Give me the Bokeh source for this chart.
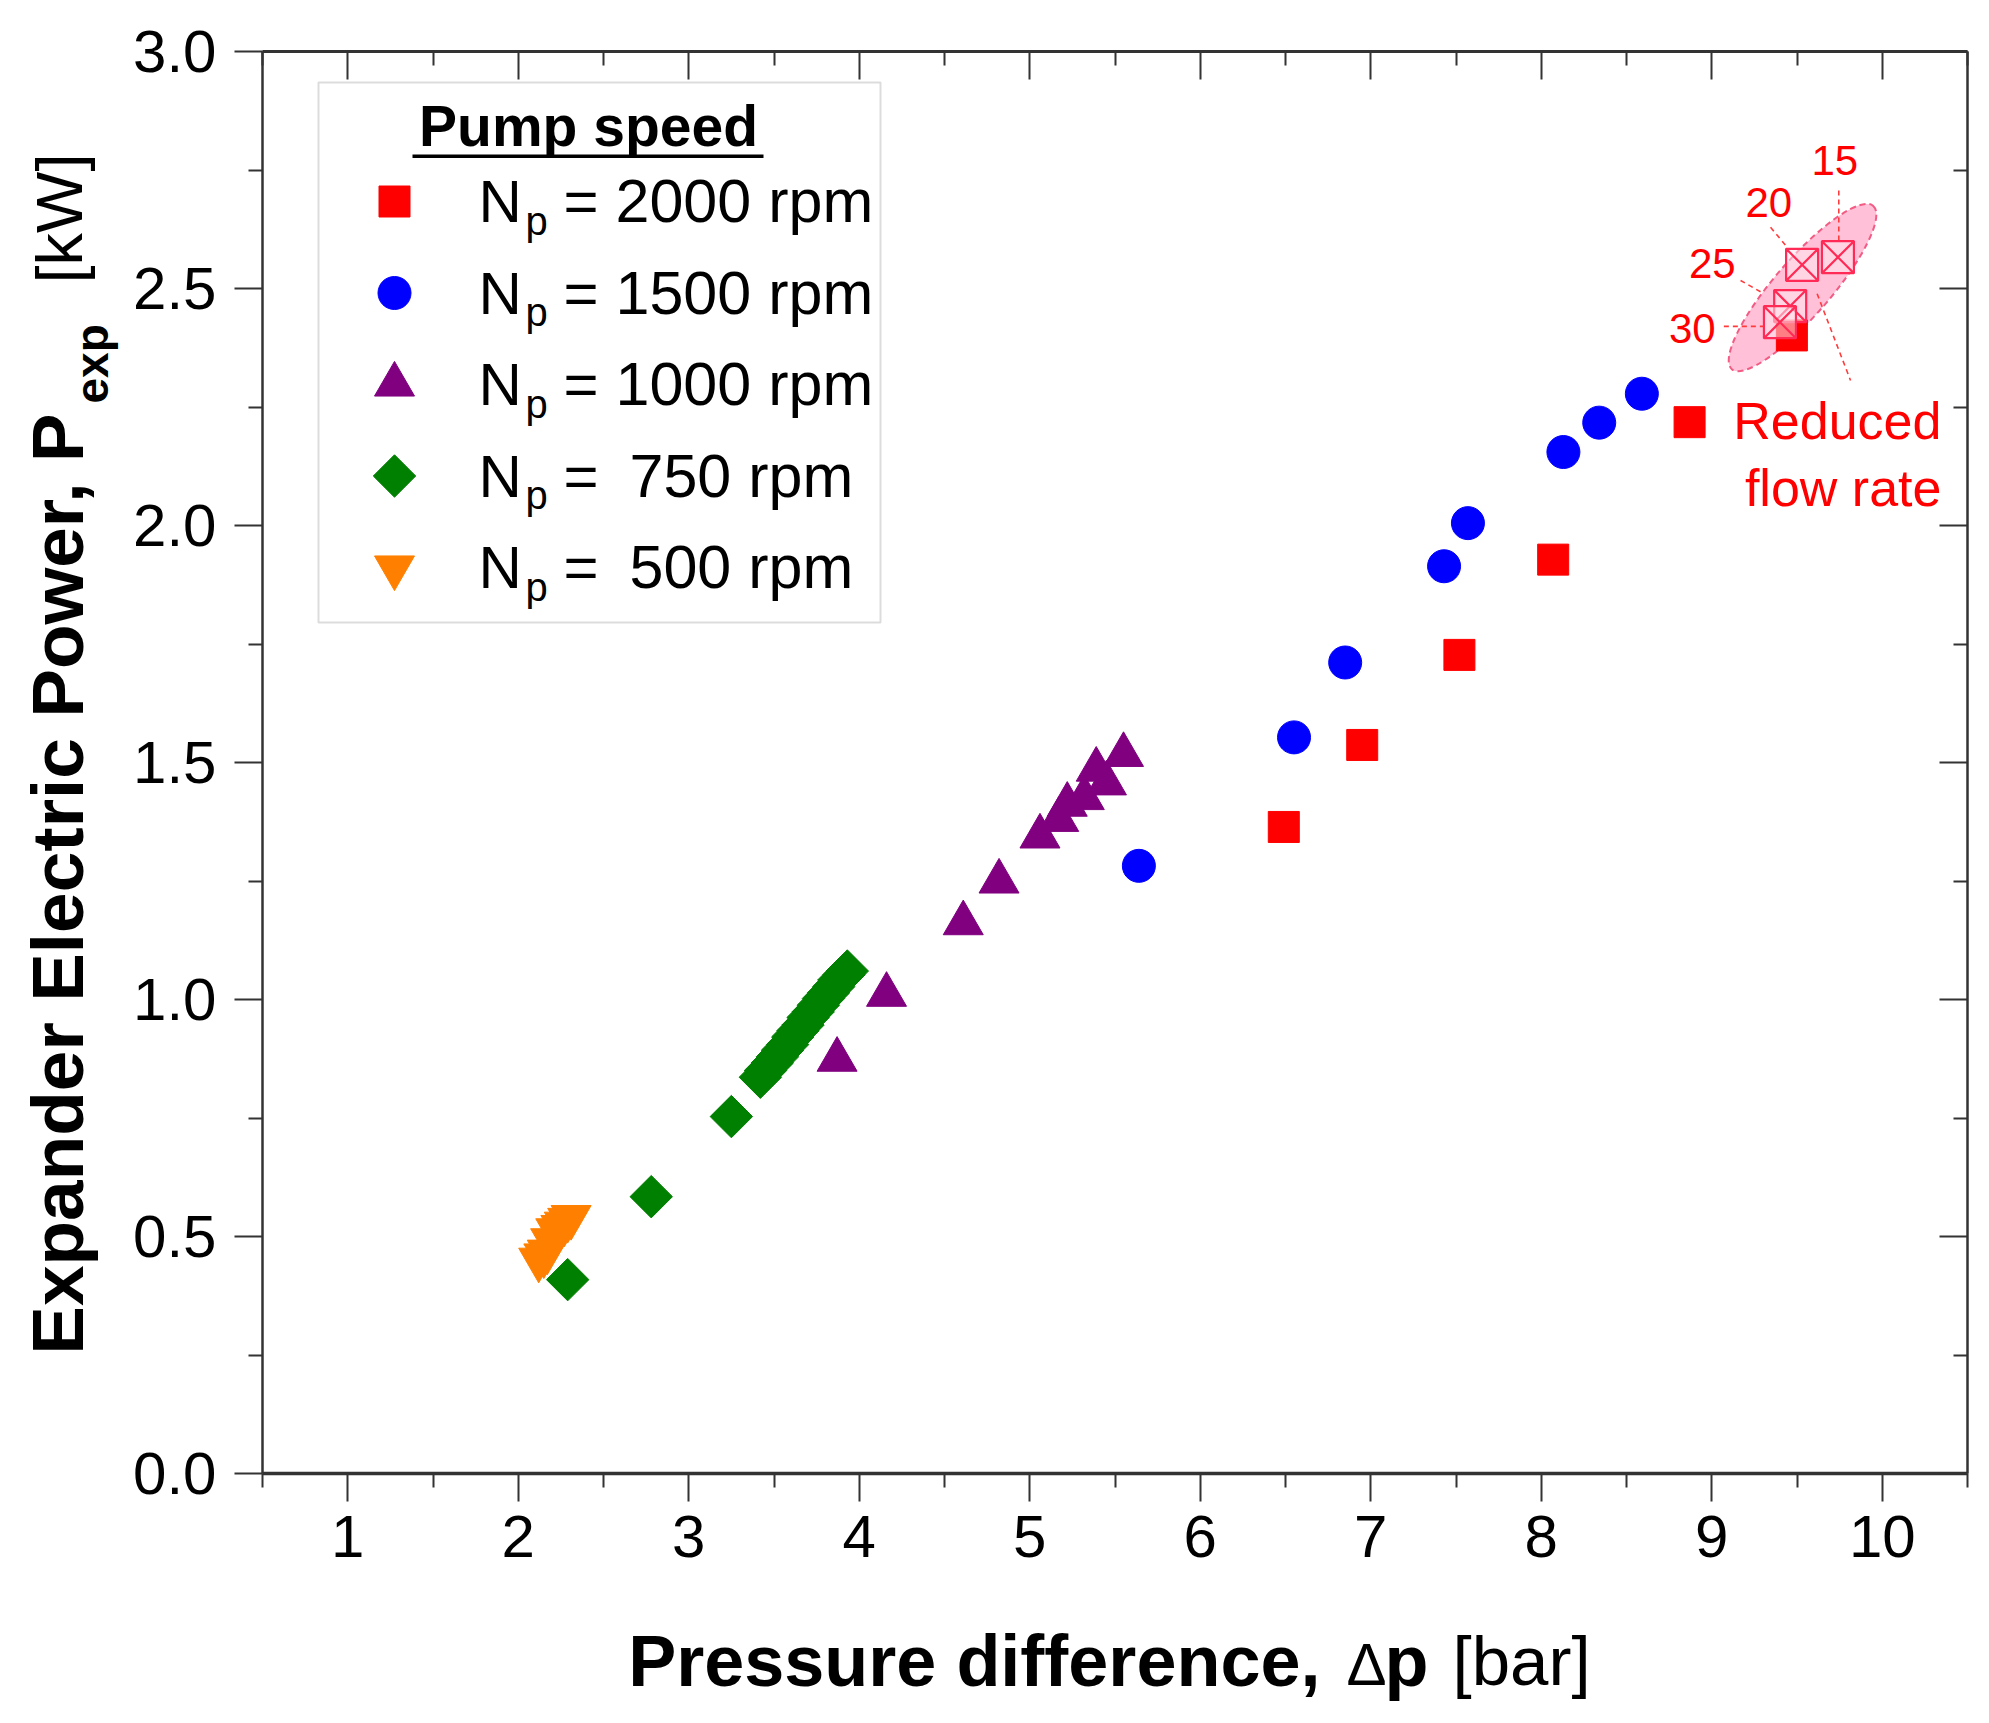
import numpy as np
from bokeh.plotting import figure
from bokeh.layouts import row, column
from bokeh.models import Range1d, LinearAxis, FixedTicker, PrintfTickFormatter, Label, BoxAnnotation
from bokeh.embed import file_html
from bokeh.resources import INLINE

FONT = "Liberation Sans"
MID = 0.3465  # baseline -> middle offset (fraction of font size)

# ---------------- data ----------------
x_ticks = [1, 2, 3, 4, 5, 6, 7, 8, 9, 10]
x_minor = [0.5, 1.5, 2.5, 3.5, 4.5, 5.5, 6.5, 7.5, 8.5, 9.5, 10.5]
y_ticks = [0.0, 0.5, 1.0, 1.5, 2.0, 2.5, 3.0]
y_minor = [0.25, 0.75, 1.25, 1.75, 2.25, 2.75]

dp_2000 = [6.49, 6.95, 7.52, 8.07, 8.87, 9.47]
P_2000 = [1.364, 1.537, 1.727, 1.928, 2.218, 2.401]

dp_1500 = [5.64, 6.55, 6.85, 7.43, 7.57, 8.13, 8.34, 8.59]
P_1500 = [1.282, 1.553, 1.711, 1.914, 2.005, 2.155, 2.217, 2.278]

dp_1000 = [3.87, 4.16, 4.61, 4.82, 5.06, 5.17, 5.22, 5.32, 5.39, 5.45, 5.55]
P_1000 = [0.873, 1.010, 1.161, 1.249, 1.344, 1.379, 1.411, 1.425, 1.485, 1.456, 1.516]

dp_750 = [2.29, 2.78, 3.25, 3.42, 3.45, 3.49, 3.52, 3.55, 3.58, 3.61, 3.64, 3.67,
          3.70, 3.73, 3.76, 3.79, 3.82, 3.85, 3.88, 3.91, 3.93]
P_750 = [0.409, 0.584, 0.753, 0.836, 0.850, 0.866, 0.879, 0.893, 0.905, 0.921, 0.934, 0.946,
         0.962, 0.974, 0.988, 1.002, 1.014, 1.027, 1.041, 1.052, 1.060]

dp_500 = [2.12, 2.15, 2.17, 2.19, 2.22, 2.25, 2.27, 2.29, 2.31]
P_500 = [0.451, 0.460, 0.468, 0.492, 0.513, 0.520, 0.527, 0.535, 0.541]

# reduced flow rate points (2000 rpm)
dp_red = [9.74, 9.53, 9.46, 9.40]
P_red = [2.566, 2.550, 2.463, 2.429]
flow_labels = ["15", "20", "25", "30"]

legend_values = ["2000 rpm", "1500 rpm", "1000 rpm", "750 rpm", "500 rpm"]

# ---------------- main figure ----------------
FW, FH = 1705, 1422
BL, BT, BB, BR = 137, 51, 120, 16
MAIN_H = BT + FH + BB
YT_W = 125
FRAME_BOTTOM = BT + FH  # page y of frame bottom

p = figure(frame_width=FW, frame_height=FH,
           x_range=Range1d(0.5, 10.5), y_range=Range1d(0.0, 3.0),
           output_backend="svg", toolbar_location=None,
           min_border_left=BL, min_border_right=BR, min_border_top=BT, min_border_bottom=BB)
p.outline_line_color = None
p.xgrid.visible = False
p.ygrid.visible = False
p.background_fill_color = "white"
p.border_fill_color = "white"
p.extra_x_ranges = {"lx": Range1d(0, FW)}
p.extra_y_ranges = {"ly": Range1d(0, FH)}

AX = "#333333"


def style_axis(ax, ticks, minor, lw, show_labels, inward):
    ax.ticker = FixedTicker(ticks=ticks, minor_ticks=minor)
    ax.axis_line_color = AX
    ax.axis_line_width = lw
    ax.major_tick_line_color = AX
    ax.minor_tick_line_color = AX
    ax.major_tick_line_width = 2
    ax.minor_tick_line_width = 2
    if inward:
        ax.major_tick_in, ax.major_tick_out = 28, 0
        ax.minor_tick_in, ax.minor_tick_out = 14, 0
    else:
        ax.major_tick_in, ax.major_tick_out = 0, 28
        ax.minor_tick_in, ax.minor_tick_out = 0, 14
    ax.axis_label = None
    if show_labels:
        ax.major_label_text_font = FONT
        ax.major_label_text_font_size = "60px"
        ax.major_label_text_color = "black"
    else:
        ax.major_label_text_font_size = "0px"
        ax.major_label_text_alpha = 0
        ax.major_label_standoff = 0


xb = p.below[0]
yl = p.left[0]
style_axis(xb, x_ticks, x_minor, 3.5, True, False)
xb.major_label_standoff = 14
style_axis(yl, y_ticks, y_minor, 2.5, True, False)
yl.formatter = PrintfTickFormatter(format="%.1f")
yl.major_label_standoff = 18

xt = LinearAxis()
style_axis(xt, x_ticks, x_minor, 3.0, False, True)
p.add_layout(xt, "above")
yr = LinearAxis()
style_axis(yr, y_ticks, y_minor, 2.5, False, True)
p.add_layout(yr, "right")

# ---------------- reduced flow rate annotation ----------------
p.ellipse(x=[float(np.mean(dp_red))], y=[float(np.mean(P_red))], width=216, height=56,
          width_units="screen", height_units="screen", angle=0.857,
          fill_color="#FFC0D8", fill_alpha=1.0, line_color="#F25C84",
          line_dash="6 4", line_width=2)

seg_x0 = [9.745, 9.345, 9.169, 9.071, 9.618]
seg_y0 = [2.707, 2.629, 2.517, 2.420, 2.489]
seg_x1 = [9.745, 9.443, 9.306, 9.325, 9.814]
seg_y1 = [2.601, 2.587, 2.489, 2.420, 2.306]
p.segment(x0=seg_x0, y0=seg_y0, x1=seg_x1, y1=seg_y1,
          line_color="#FF3B3B", line_dash="5 4", line_width=1.6)

# ---------------- data series ----------------
p.scatter(dp_750, P_750, marker="square", angle=np.pi / 4, size=30,
          fill_color="#008000", line_color="#008000")
p.scatter(dp_500, P_500, marker="inverted_triangle", size=40,
          fill_color="#FF8000", line_color="#FF8000")
p.scatter(dp_1000, P_1000, marker="triangle", size=40,
          fill_color="#800080", line_color="#800080")
p.scatter(dp_1500, P_1500, marker="circle", size=33,
          fill_color="#0000FF", line_color="#0000FF")
p.scatter(dp_2000, P_2000, marker="square", size=31,
          fill_color="#FF0000", line_color="#FF0000")
p.scatter(dp_red, P_red, marker="square_x", size=32,
          fill_color="#FFE6EF", fill_alpha=0.55, line_color="#FF2A55", line_width=2.2)

# flow-rate labels
flow_lx = [9.722, 9.335, 9.003, 8.886]
flow_ly = [2.770, 2.682, 2.552, 2.415]
for t, lx, ly in zip(flow_labels, flow_lx, flow_ly):
    p.add_layout(Label(x=lx, y=ly, text=t, text_font=FONT, text_font_size="42px",
                       text_color="#FF0000", text_align="center", text_baseline="middle"))

YPX = FH / 3.0  # pixels per data unit (y)
p.add_layout(Label(x=10.347, y=2.183 + MID * 52 / YPX, text="Reduced", text_font=FONT,
                   text_font_size="52px", text_color="#FF0000", text_align="right",
                   text_baseline="middle"))
p.add_layout(Label(x=10.347, y=2.042 + MID * 52 / YPX, text="flow rate", text_font=FONT,
                   text_font_size="52px", text_color="#FF0000", text_align="right",
                   text_baseline="middle"))


def slabel(fig, text, sx, sy_base, size, bold=False, align="left", angle=0.0,
           units="screen", color="black"):
    """Place a text whose baseline is at sy_base (horizontal) using middle alignment."""
    if angle == 0.0:
        x, y = sx, sy_base + MID * size
    else:  # rotated 90 deg CCW: glyph tops point to -x
        x, y = sx - MID * size, sy_base
    fig.add_layout(Label(x=x, y=y, x_units=units, y_units=units, text=text,
                         text_font=FONT, text_font_size=f"{size}px",
                         text_font_style="bold" if bold else "normal",
                         text_color=color, text_align=align, text_baseline="middle",
                         angle=angle))


# ---------------- legend ----------------
p.add_layout(BoxAnnotation(left=56, right=618, top=1391, bottom=851,
                           left_units="screen", right_units="screen",
                           top_units="screen", bottom_units="screen",
                           fill_color="white", fill_alpha=1.0,
                           line_color="#8c8c8c", line_width=2))
slabel(p, "Pump speed", 326, 1328, 57, bold=True, align="center")
p.add_layout(BoxAnnotation(left=150, right=501, top=1319, bottom=1315.5,
                           left_units="screen", right_units="screen",
                           top_units="screen", bottom_units="screen",
                           fill_color="black", fill_alpha=1.0, line_color=None))

row_y = [1272 - 91.5 * i for i in range(5)]
leg_x = 132
leg_specs = [
    dict(marker="square", size=31, color="#FF0000", angle=0.0),
    dict(marker="circle", size=33, color="#0000FF", angle=0.0),
    dict(marker="triangle", size=40, color="#800080", angle=0.0),
    dict(marker="square", size=30, color="#008000", angle=np.pi / 4),
    dict(marker="inverted_triangle", size=40, color="#FF8000", angle=0.0),
]
val_x = [353, 353, 353, 367, 367]
for i, spec in enumerate(leg_specs):
    r = p.scatter([leg_x], [row_y[i]], marker=spec["marker"], size=spec["size"],
                  angle=spec["angle"], fill_color=spec["color"], line_color=spec["color"],
                  x_range_name="lx", y_range_name="ly")
    r.level = "overlay"
    slabel(p, "N", 216, row_y[i] - 21, 60)
    slabel(p, "p", 263, row_y[i] - 33, 40)
    slabel(p, "=", 301, row_y[i] - 21, 60)
    slabel(p, legend_values[i], val_x[i], row_y[i] - 21, 61)


# ---------------- axis titles (separate text panels) ----------------
def text_panel(w, h, top=0, bottom=0):
    f = figure(width=w, height=h, x_range=Range1d(0, w), y_range=Range1d(0, h - top - bottom),
               x_axis_type=None, y_axis_type=None, output_backend="svg",
               toolbar_location=None, min_border=0)
    f.min_border_left = 0
    f.min_border_right = 0
    f.min_border_top = top
    f.min_border_bottom = bottom
    f.outline_line_color = None
    f.background_fill_color = "white"
    f.border_fill_color = "white"
    return f


# y title panel: its frame spans the same page rows as the main frame;
# data y = FRAME_BOTTOM - page_y
yfig = text_panel(YT_W, MAIN_H, top=BT, bottom=BB)
slabel(yfig, "Expander Electric Power, P", 82, FRAME_BOTTOM - 413, 73, bold=True,
       align="right", angle=np.pi / 2, units="data")
slabel(yfig, "exp", 107, FRAME_BOTTOM - 403, 46, bold=True, angle=np.pi / 2, units="data")
slabel(yfig, "[kW]", 82, FRAME_BOTTOM - 283, 65, angle=np.pi / 2, units="data")

# x title panel below, full width; data y = panel_bottom - page_y
TOTAL_W = YT_W + BL + FW + BR
XT_H = 125
xfig = text_panel(TOTAL_W, XT_H)
base = MAIN_H + XT_H - 1685
slabel(xfig, "Pressure difference,", 1320, base, 72, bold=True, align="right", units="data")
slabel(xfig, "\u0394", 1346, base, 60, units="data")
slabel(xfig, "p", 1384, base, 72, bold=True, units="data")
slabel(xfig, "[bar]", 1452, base, 69, units="data")

layout = column(row(yfig, p), xfig)
open("out.html", "w").write(file_html(layout, INLINE))
